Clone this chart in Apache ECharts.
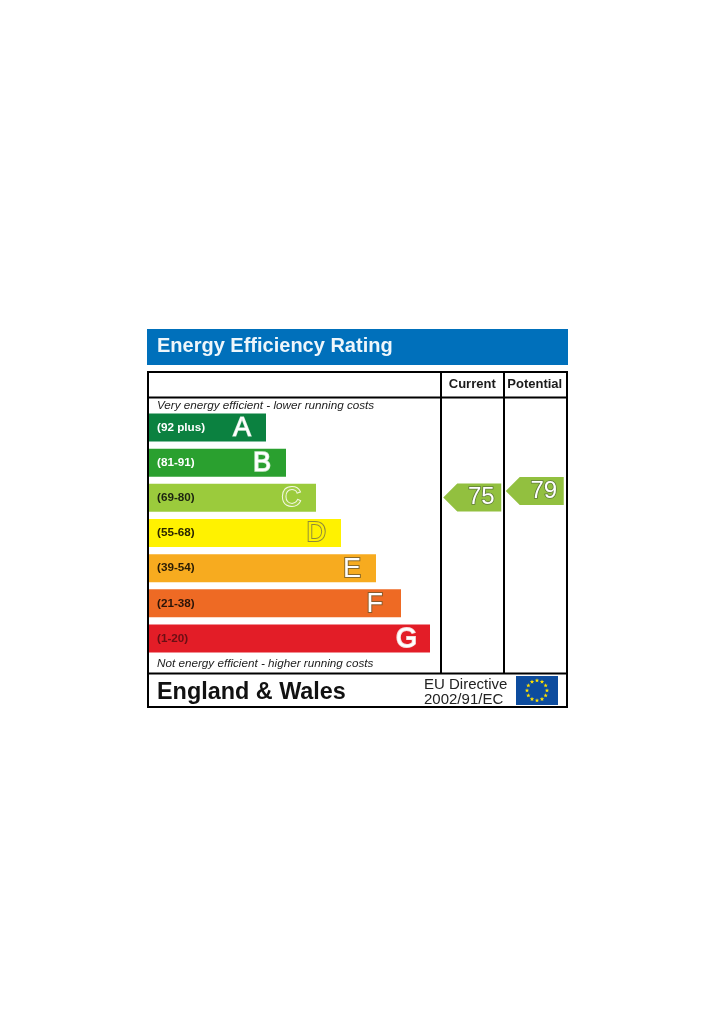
<!DOCTYPE html>
<html><head><meta charset="utf-8">
<style>html,body{margin:0;padding:0;background:#fff}#c{width:715px;height:1033px}</style>
<script src="https://cdn.jsdelivr.net/npm/echarts@6/dist/echarts.min.js"></script>
</head><body><div id="c"></div>
<script>
const ranges = ['(92 plus)','(81-91)','(69-80)','(55-68)','(39-54)','(21-38)','(1-20)'];
const letters = ['A','B','C','D','E','F','G'];
const barLengths = [117,137,167,192,227,252,281];
const bandColors = ['#0b8140','#2aa02f','#9bcb3c','#fff200','#f7ab1f','#ee6a24','#e31d27'];
const rangeColors = ['#ffffff','#ffffff','#1c2410','#2a2500','#2a1c05','#2a1408','#6a0f14'];
const columns = ['Current','Potential'];
const currentRating = 75;
const potentialRating = 79;
const FONT = '"Liberation Sans", Arial, sans-serif';

const chart = echarts.init(document.getElementById('c'), null, {renderer:'canvas'});

function line(x1,y1,x2,y2){
  return {type:'line',shape:{x1,y1,x2,y2},style:{stroke:'#000',lineWidth:2},z:20};
}
function txt(x,y,text,font,fill){
  return {type:'text',x,y,style:{text,font,fill:fill||'#111',textVerticalAlign:'middle',textBaseline:'middle'},z:20};
}
function stars(cx,cy,r){
  const out=[];
  for(let i=0;i<12;i++){
    const a=i*Math.PI/6, sx=cx+r*Math.cos(a), sy=cy+r*Math.sin(a), pts=[];
    for(let k=0;k<10;k++){
      const b=-Math.PI/2+k*Math.PI/5, q=k%2?1:2.3;
      pts.push([sx+q*Math.cos(b),sy+q*Math.sin(b)]);
    }
    out.push({type:'polygon',shape:{points:pts},style:{fill:'#ffe100'},z:22});
  }
  return out;
}

const labelStyles = [
  {color:'#fff',textBorderColor:'#cfe6d6',textBorderWidth:1.2,offset:[0,1]},
  {color:'#fff',textBorderColor:'#d2ebd2',textBorderWidth:1.6,offset:[0,1]},
  {color:'#a3cf48',textBorderColor:'#f4f8e4',textBorderWidth:2,offset:[0,1]},
  {color:'#fff200',textBorderColor:'#8f8a3a',textBorderWidth:2,offset:[0,1]},
  {color:'#fff',textBorderColor:'#8a6a2a',textBorderWidth:2,offset:[0,1]},
  {color:'#fff',textBorderColor:'#8a5a2a',textBorderWidth:2,offset:[-3,1]},
  {color:'#fff',textBorderColor:'#f6dcdc',textBorderWidth:1.8,offset:[2,1]}
];

function arrowSeries(colIdx,value){
  return {
    type:'scatter',xAxisIndex:1,yAxisIndex:1,z:6,
    symbol:'path://M0 14 L14 0 H58 V28 H14 Z',
    symbolSize:[58,28],
    itemStyle:{color:'#92c03f',opacity:1},
    label:{show:true,position:'inside',offset:[9,0],formatter:'{@[1]}',
      fontFamily:FONT,fontSize:24,color:'#fff',textBorderColor:'#5f7a3a',textBorderWidth:1.6},
    data:[[colIdx,value]]
  };
}

chart.setOption({
  animation:false,
  backgroundColor:'#ffffff',
  title:{text:'Energy Efficiency Rating',left:157,top:336,padding:0,
    textStyle:{fontFamily:FONT,fontSize:20,fontWeight:'bold',color:'#eef6fb'}},
  grid:[
    {left:149,top:410,width:281,height:246},
    {left:441,top:457,width:125,height:162}
  ],
  xAxis:[
    {type:'value',gridIndex:0,min:0,max:281,show:false},
    {type:'category',gridIndex:1,data:columns,position:'top',offset:60,
      axisLine:{show:false},axisTick:{show:false},splitLine:{show:false},
      axisLabel:{margin:6,fontFamily:FONT,fontSize:13,fontWeight:'bold',color:'#1a1a1a',interval:0}}
  ],
  yAxis:[
    {type:'category',gridIndex:0,inverse:true,data:ranges,z:10,
      axisLine:{show:false},axisTick:{show:false},splitLine:{show:false},
      axisLabel:{inside:true,margin:8,fontFamily:FONT,fontSize:11.7,fontWeight:'bold',
        color:(v,i)=>rangeColors[i]}},
    {type:'value',gridIndex:1,min:0,max:100,show:false}
  ],
  series:[
    {type:'bar',xAxisIndex:0,yAxisIndex:0,barWidth:28,z:2,
      data:barLengths.map((v,i)=>({value:v,
        itemStyle:{color:bandColors[i]},
        label:Object.assign({show:true,position:'insideRight',distance:15,
          formatter:letters[i],fontFamily:FONT,fontSize:27},labelStyles[i])}))},
    arrowSeries(0,currentRating),
    arrowSeries(1,potentialRating)
  ],
  graphic:[
    {type:'rect',shape:{x:147,y:329,width:421,height:36},style:{fill:'#0070bb'},z:-1},
    {type:'rect',shape:{x:148,y:372,width:419,height:335},style:{fill:'none',stroke:'#000',lineWidth:2},z:20},
    line(148,397.5,567,397.5),
    line(148,673.5,567,673.5),
    line(441,372,441,673),
    line(504,372,504,673),
    txt(157,405.5,'Very energy efficient - lower running costs','italic 11.7px '+FONT,'#222'),
    txt(157,663.5,'Not energy efficient - higher running costs','italic 11.7px '+FONT,'#222'),
    txt(157,692.5,'England & Wales','bold 23.4px '+FONT,'#111'),
    txt(424,684.5,'EU Directive','15px '+FONT,'#222'),
    txt(424,699.5,'2002/91/EC','15px '+FONT,'#222'),
    {type:'rect',shape:{x:516,y:676,width:42,height:29},style:{fill:'#0d4c9e'},z:21}
  ].concat(stars(537,690.5,10))
});
</script></body></html>
